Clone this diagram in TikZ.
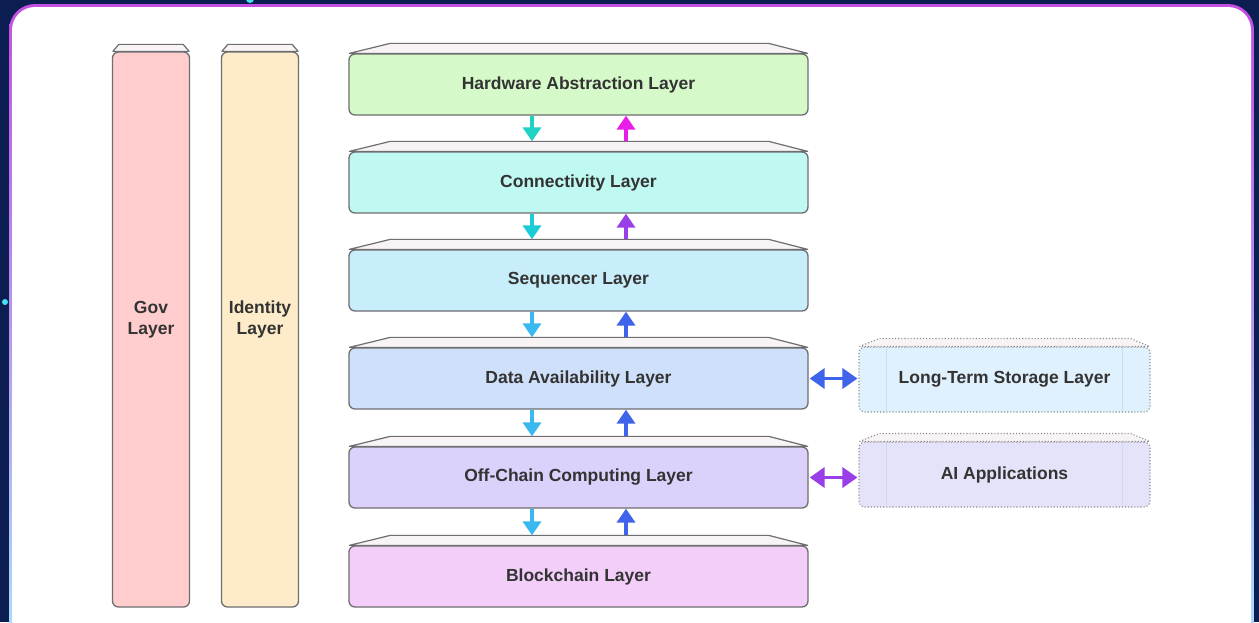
\documentclass[tikz,border=0pt]{standalone}
\usepackage{fontspec}
\setmainfont{Liberation Sans}
\usetikzlibrary{arrows.meta}
\definecolor{navy}{HTML}{0C1D52}
\definecolor{framepurple}{HTML}{C24FE2}
\definecolor{framemid}{HTML}{A98CF2}
\definecolor{framecyan}{HTML}{A8E6FA}
\definecolor{edgegray}{HTML}{6E6E70}
\definecolor{txt}{HTML}{333333}
\definecolor{facefill}{HTML}{F8F4F5}
\definecolor{govfill}{HTML}{FFCDCD}
\definecolor{idfill}{HTML}{FDEBC9}
\definecolor{halfill}{HTML}{D6F9C9}
\definecolor{confill}{HTML}{BFF9F1}
\definecolor{seqfill}{HTML}{C9EEFB}
\definecolor{dafill}{HTML}{CFE0FA}
\definecolor{offfill}{HTML}{DCD1FA}
\definecolor{bcfill}{HTML}{F2CEF9}
\definecolor{ltsfill}{HTML}{DFF1FD}
\definecolor{aifill}{HTML}{E5E3FA}
\definecolor{dotgray}{HTML}{8C8C90}
\definecolor{innergray}{HTML}{CCDCEA}
\definecolor{turq}{HTML}{1FD3C4}
\definecolor{magen}{HTML}{E81EE8}
\definecolor{teal2}{HTML}{1CCDD8}
\definecolor{violet2}{HTML}{9A3EE8}
\definecolor{sky}{HTML}{3AB8F0}
\definecolor{royal}{HTML}{3F63EA}
\definecolor{glow}{HTML}{3FE3F2}
\begin{document}
\begin{tikzpicture}[x=1pt,y=-1pt,
  lbl/.style={font=\bfseries\fontsize{17.5}{21}\selectfont, text=txt, align=center, inner sep=0pt},
  layer/.style={lbl, draw=edgegray, line width=1.3pt, rounded corners=6pt,
    minimum width=459pt, minimum height=61pt},
  column/.style={lbl, draw=edgegray, line width=1.3pt, rounded corners=6pt,
    minimum width=77pt, minimum height=555pt, text depth=24pt},
  sidebox/.style={lbl, draw=dotgray, dotted, line width=1.1pt, rounded corners=6pt,
    minimum width=291pt, minimum height=65pt},
  face/.style={draw=edgegray, line width=1.2pt, fill=facefill, line join=round},
  sideface/.style={draw=dotgray, dotted, line width=1.1pt, fill=facefill},
  innerline/.style={draw=innergray, line width=0.8pt},
  flow/.style={line width=3.5pt, -{Triangle[width=18pt,length=14pt]}},
  twoway/.style={line width=3.5pt, {Triangle[width=20pt,length=15pt]}-{Triangle[width=20pt,length=15pt]}}
]
\useasboundingbox (0,0) rectangle (1259,622);
% background and frame
\fill[navy] (0,0) rectangle (1259,622);
\shade[top color=framepurple, middle color=framemid, bottom color=framecyan, rounded corners=26pt] (9,4) rectangle (1254,680);
\fill[white, rounded corners=23pt] (12,7) rectangle (1251,680);
\fill[glow] (250,-1) circle (4pt);
\fill[glow] (5,302) circle (3pt);

% side columns
\node[column, fill=govfill] (gov) at (151,329.5) {Gov\\Layer};
\node[column, fill=idfill] (ident) at (260,329.5) {Identity\\Layer};
\foreach \n in {gov,ident}
  \draw[face] ([xshift=1pt]\n.north west) -- ++(6pt,7pt) -- ([xshift=-7pt,yshift=7pt]\n.north east) -- ([xshift=-1pt]\n.north east) -- cycle;

% main stack
\node[layer, fill=halfill] (hal) at (578.5,84.5) {Hardware Abstraction Layer};
\node[layer, fill=confill] (con) at (578.5,182.5) {Connectivity Layer};
\node[layer, fill=seqfill] (seq) at (578.5,280.5) {Sequencer Layer};
\node[layer, fill=dafill] (da) at (578.5,378.5) {Data Availability Layer};
\node[layer, fill=offfill] (off) at (578.5,477.5) {Off-Chain Computing Layer};
\node[layer, fill=bcfill] (bc) at (578.5,576.5) {Blockchain Layer};
\foreach \n in {hal,con,seq,da,off,bc}
  \draw[face] ([xshift=1pt]\n.north west) -- ++(41pt,10pt) -- ([xshift=-40pt,yshift=10pt]\n.north east) -- ([xshift=-1pt]\n.north east) -- cycle;

% side boxes
\node[sidebox, fill=ltsfill] (lts) at (1004.5,379.5) {Long-Term Storage Layer};
\node[sidebox, fill=aifill] (ai) at (1004.5,474.5) {AI Applications};
\foreach \n in {lts,ai}{
  \draw[sideface] ([xshift=1pt]\n.north west) -- ++(20pt,8pt) -- ([xshift=-20pt,yshift=8pt]\n.north east) -- ([xshift=-1pt]\n.north east) -- cycle;
  \draw[innerline] ([xshift=28pt,yshift=-2pt]\n.north west) -- ([xshift=28pt,yshift=2pt]\n.south west);
  \draw[innerline] ([xshift=-28pt,yshift=-2pt]\n.north east) -- ([xshift=-28pt,yshift=2pt]\n.south east);
}

% vertical flow arrows
\coordinate (dnx) at (532,0);
\coordinate (upx) at (626,0);
\draw[flow, turq] (hal.south -| dnx) -- ([yshift=10pt]con.north -| dnx);
\draw[flow, magen] ([yshift=10pt]con.north -| upx) -- (hal.south -| upx);
\draw[flow, teal2] (con.south -| dnx) -- ([yshift=10pt]seq.north -| dnx);
\draw[flow, violet2] ([yshift=10pt]seq.north -| upx) -- (con.south -| upx);
\draw[flow, sky] (seq.south -| dnx) -- ([yshift=10pt]da.north -| dnx);
\draw[flow, royal] ([yshift=10pt]da.north -| upx) -- (seq.south -| upx);
\draw[flow, sky] (da.south -| dnx) -- ([yshift=10pt]off.north -| dnx);
\draw[flow, royal] ([yshift=10pt]off.north -| upx) -- (da.south -| upx);
\draw[flow, sky] (off.south -| dnx) -- ([yshift=10pt]bc.north -| dnx);
\draw[flow, royal] ([yshift=10pt]bc.north -| upx) -- (off.south -| upx);

% horizontal two-way arrows
\draw[twoway, royal] ([xshift=1pt]da.east) -- ([xshift=-1pt]lts.west |- da.east);
\draw[twoway, violet2] ([xshift=1pt]off.east) -- ([xshift=-1pt]ai.west |- off.east);
\end{tikzpicture}
\end{document}
